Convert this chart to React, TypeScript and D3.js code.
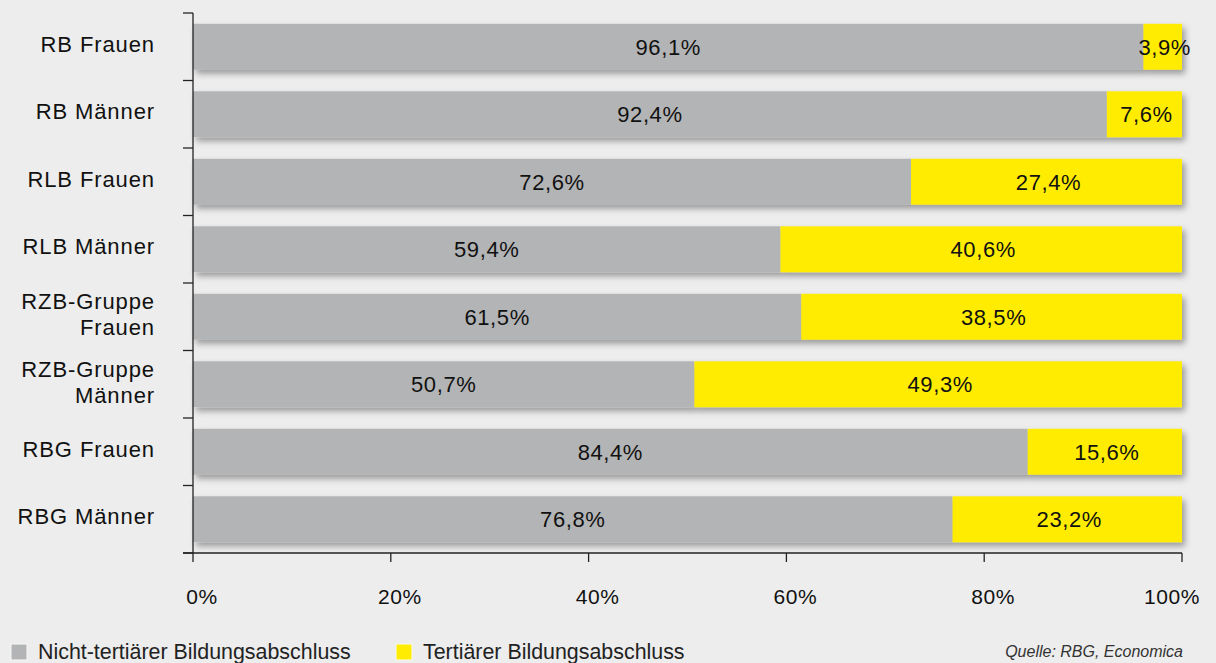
import React from "react";
import * as d3 from "d3";

const categories: string[][] = [
  ["RB Frauen"],
  ["RB Männer"],
  ["RLB Frauen"],
  ["RLB Männer"],
  ["RZB-Gruppe", "Frauen"],
  ["RZB-Gruppe", "Männer"],
  ["RBG Frauen"],
  ["RBG Männer"],
];
const nichtTertiaer: number[] = [96.1, 92.4, 72.6, 59.4, 61.5, 50.7, 84.4, 76.8];
const tertiaer: number[] = [3.9, 7.6, 27.4, 40.6, 38.5, 49.3, 15.6, 23.2];
const xTicks: number[] = [0, 20, 40, 60, 80, 100];
const seriesNames: string[] = ["Nicht-tertiärer Bildungsabschluss", "Tertiärer Bildungsabschluss"];
const sourceText = "Quelle: RBG, Economica";

const W = 1216;
const H = 663;
const BG = "#ecedec";
const GREY = "#b3b4b5";
const YELLOW = "#ffec00";
const FONT = "'Liberation Sans', Arial, Helvetica, sans-serif";

const fmt = (v: number) => v.toFixed(1).replace(".", ",") + "%";

export default function App() {
  const x = d3.scaleLinear().domain([0, 100]).range([193, 1182]);
  const keys = categories.map((c) => c.join(" "));
  const y = d3
    .scaleBand<string>()
    .domain(keys)
    .range([13, 553])
    .paddingInner(0.32)
    .paddingOuter(0.16);
  const step = y.step();
  const bw = y.bandwidth();
  const axisTop = y.range()[0];
  const axisBottom = y.range()[1];

  return (
    <div style={{ position: "fixed", left: 0, top: 0, width: W, height: H }}>
      <svg width={W} height={H} style={{ display: "block" }} fontFamily={FONT}>
        <defs>
          <filter id="shadow" x="-5%" y="-30%" width="110%" height="180%">
            <feDropShadow dx="3" dy="4" stdDeviation="3" floodColor="#000" floodOpacity="0.35" />
          </filter>
        </defs>
        <rect width={W} height={H} fill={BG} />

        {/* bars */}
        {keys.map((k, i) => {
          const y0 = y(k)!;
          const g = nichtTertiaer[i];
          const t = tertiaer[i];
          return (
            <g key={k} filter="url(#shadow)">
              <rect x={x(0)} y={y0} width={x(g) - x(0)} height={bw} fill={GREY} />
              <rect x={x(g)} y={y0} width={x(g + t) - x(g)} height={bw} fill={YELLOW} />
            </g>
          );
        })}

        {/* value labels */}
        {keys.map((k, i) => {
          const c = y(k)! + bw / 2;
          const g = nichtTertiaer[i];
          const t = tertiaer[i];
          return (
            <g key={k + "-lbl"} fontSize={22} fill="#111" letterSpacing={0.6}>
              <text x={(x(0) + x(g)) / 2} y={c + 8} textAnchor="middle">
                {fmt(g)}
              </text>
              <text x={(x(g) + x(g + t)) / 2 + 2} y={c + 8} textAnchor="middle">
                {fmt(t)}
              </text>
            </g>
          );
        })}

        {/* y axis */}
        <line x1={x(0)} x2={x(0)} y1={axisTop} y2={axisBottom} stroke="#222" strokeWidth={1.3} />
        {d3.range(keys.length + 1).map((i) => (
          <line
            key={"yt" + i}
            x1={x(0) - 10}
            x2={x(0)}
            y1={axisTop + i * step}
            y2={axisTop + i * step}
            stroke="#222"
            strokeWidth={1.3}
          />
        ))}

        {/* category labels */}
        {categories.map((lines, i) => {
          const c = y(keys[i])! + bw / 2;
          const first = lines.length === 1 ? c + 4.8 : c - 7.5;
          return (
            <text
              key={"cl" + i}
              x={155}
              textAnchor="end"
              fontSize={22}
              letterSpacing={0.9}
              fill="#111"
            >
              {lines.map((ln, j) => (
                <tspan key={j} x={155} y={first + j * 26}>
                  {ln}
                </tspan>
              ))}
            </text>
          );
        })}

        {/* x axis */}
        <line x1={x(0) - 10} x2={x(100)} y1={axisBottom} y2={axisBottom} stroke="#222" strokeWidth={1.3} />
        {xTicks.map((t, i) => {
          const last = i === xTicks.length - 1;
          return (
            <g key={"xt" + t}>
              <line x1={x(t)} x2={x(t)} y1={axisBottom} y2={axisBottom + 9} stroke="#222" strokeWidth={1.3} />
              <text
                x={last ? x(t) + 18 : x(t) + 9}
                y={604}
                textAnchor={last ? "end" : "middle"}
                fontSize={21}
                letterSpacing={0.6}
                fill="#111"
              >
                {t + "%"}
              </text>
            </g>
          );
        })}

        {/* legend */}
        {seriesNames.map((s, i) => {
          const lx = i === 0 ? 11 : 396;
          return (
            <g key={"lg" + s}>
              <rect x={lx} y={644} width={16} height={16} fill={i === 0 ? GREY : YELLOW} stroke="#f8f8f8" strokeWidth={1} />
              <text x={lx + 27} y={659} fontSize={21.4} fill="#222">
                {s}
              </text>
            </g>
          );
        })}
        <text x={1183} y={657} textAnchor="end" fontSize={16} fontStyle="italic" fill="#333">
          {sourceText}
        </text>
      </svg>
    </div>
  );
}
